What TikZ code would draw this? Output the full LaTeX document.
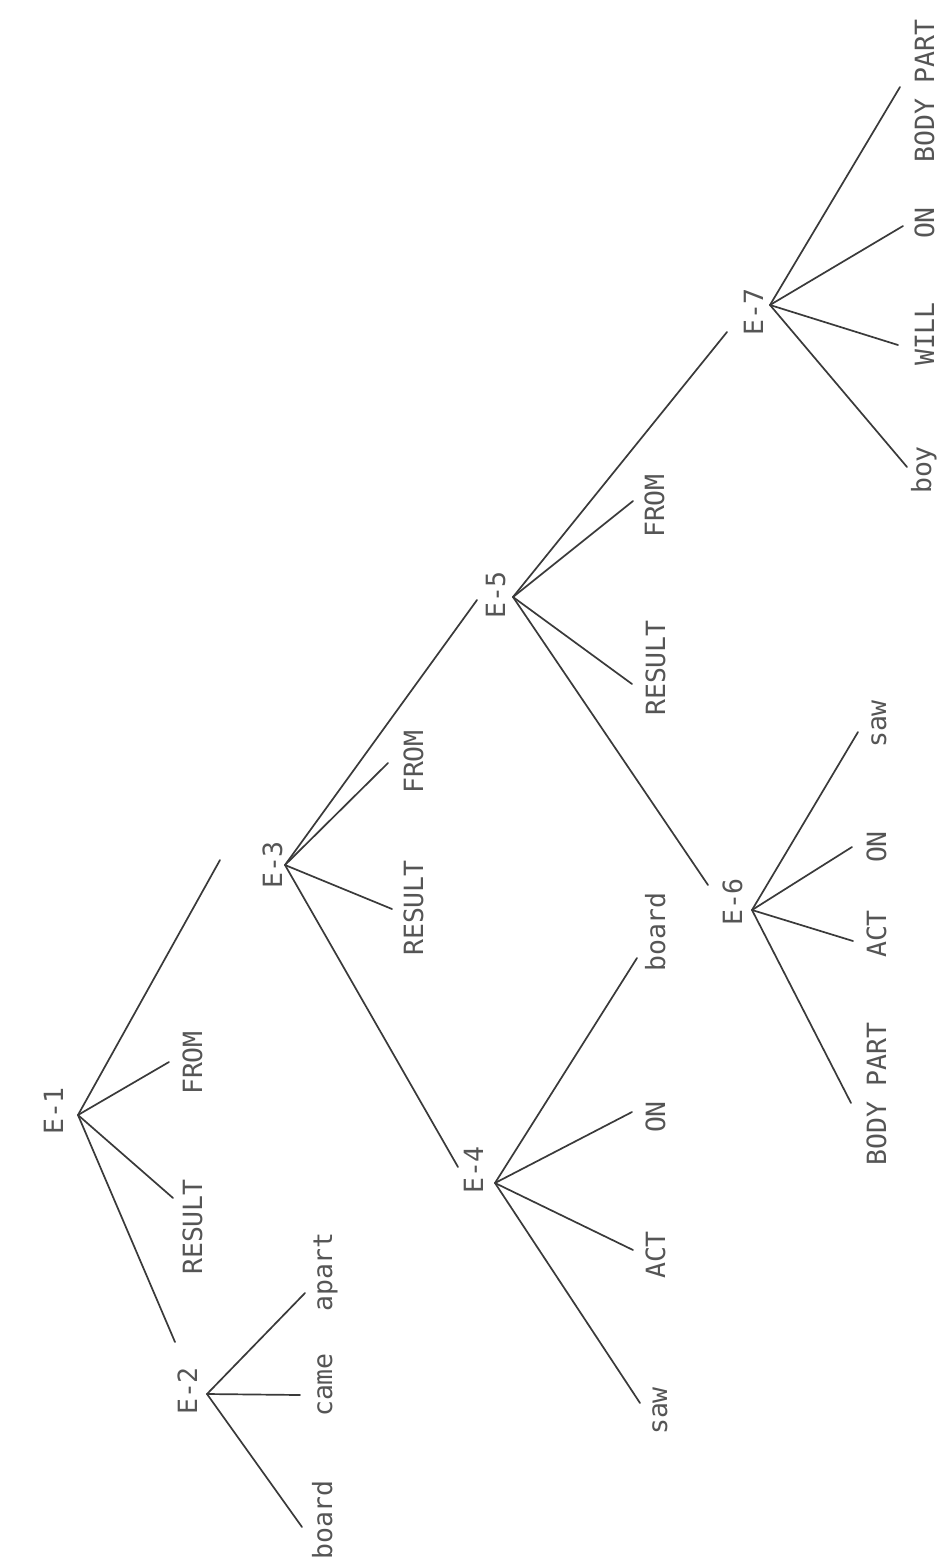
\documentclass[tikz,border=0pt]{standalone}
\usepackage{fontspec}
\newfontfamily\treefont{DejaVu Sans Mono}
\definecolor{ink}{HTML}{3A3A3A}
\definecolor{txt}{HTML}{555555}
\newcommand{\labelfont}{\treefont\fontsize{26.5}{26.5}\selectfont}
\tikzset{
  lbl/.style={rotate=90,anchor=base,inner sep=0pt,font=\labelfont,text=txt},
  twig/.style={draw=ink,line width=1.7pt,line cap=round}
}
\begin{document}
\begin{tikzpicture}[x=1pt,y=-1pt]
  \useasboundingbox[fill=white] (0,0) rectangle (948,1564);
  % junction points
  \coordinate (e1) at (78,1115);
  \coordinate (e2) at (207,1394);
  \coordinate (e3) at (285,865);
  \coordinate (e4) at (495,1183);
  \coordinate (e5) at (513,597);
  \coordinate (e6) at (752,910);
  \coordinate (e7) at (770,305);
  % node names
  \node[lbl] (le1) at (63,1111) {E-1};
  \node[lbl] (le2) at (197,1391) {E-2};
  \node[lbl] (le3) at (282,865) {E-3};
  \node[lbl] (le4) at (483,1170) {E-4};
  \node[lbl] (le5) at (505,595) {E-5};
  \node[lbl] (le6) at (742,902) {E-6};
  \node[lbl] (le7) at (763,312) {E-7};
  % E-1
  \node[lbl] (e1from) at (202,1063) {FROM};
  \node[lbl] (e1res) at (202,1227) {RESULT};
  \coordinate (e1to3) at (220,860);
  \coordinate (e1to2) at (175,1342);
  \coordinate (e1fromend) at (169,1062);
  \coordinate (e1resend) at (173,1198);
  \draw[twig] (e1) -- (e1to3);
  \draw[twig] (e1) -- (e1fromend);
  \draw[twig] (e1) -- (e1resend);
  \draw[twig] (e1) -- (e1to2);
  % E-2
  \node[lbl] (e2apart) at (332,1272) {apart};
  \node[lbl] (e2came) at (332,1385) {came};
  \node[lbl] (e2board) at (332,1520) {board};
  \coordinate (e2apartend) at (305,1293);
  \coordinate (e2cameend) at (300,1395);
  \coordinate (e2boardend) at (302,1527);
  \draw[twig] (e2) -- (e2apartend);
  \draw[twig] (e2) -- (e2cameend);
  \draw[twig] (e2) -- (e2boardend);
  % E-3
  \node[lbl] (e3from) at (423,762) {FROM};
  \node[lbl] (e3res) at (423,908) {RESULT};
  \coordinate (e3to5) at (477,600);
  \coordinate (e3to4) at (458,1167);
  \coordinate (e3fromend) at (388,763);
  \coordinate (e3resend) at (392,909);
  \draw[twig] (e3) -- (e3to5);
  \draw[twig] (e3) -- (e3fromend);
  \draw[twig] (e3) -- (e3resend);
  \draw[twig] (e3) -- (e3to4);
  % E-4
  \node[lbl] (e4board) at (665,932) {board};
  \node[lbl] (e4on) at (665,1117) {ON};
  \node[lbl] (e4act) at (665,1255) {ACT};
  \node[lbl] (e4saw) at (667,1411) {saw};
  \coordinate (e4boardend) at (637,958);
  \coordinate (e4onend) at (632,1112);
  \coordinate (e4actend) at (633,1250);
  \coordinate (e4sawend) at (640,1403);
  \draw[twig] (e4) -- (e4boardend);
  \draw[twig] (e4) -- (e4onend);
  \draw[twig] (e4) -- (e4actend);
  \draw[twig] (e4) -- (e4sawend);
  % E-5
  \node[lbl] (e5from) at (664,506) {FROM};
  \node[lbl] (e5res) at (665,668) {RESULT};
  \coordinate (e5to7) at (727,332);
  \coordinate (e5to6) at (708,885);
  \coordinate (e5fromend) at (633,501);
  \coordinate (e5resend) at (632,684);
  \draw[twig] (e5) -- (e5to7);
  \draw[twig] (e5) -- (e5fromend);
  \draw[twig] (e5) -- (e5resend);
  \draw[twig] (e5) -- (e5to6);
  % E-6
  \node[lbl] (e6saw) at (886,724) {saw};
  \node[lbl] (e6on) at (886,847) {ON};
  \node[lbl] (e6act) at (886,934) {ACT};
  \node[lbl] (e6body) at (886,1094) {BODY PART};
  \coordinate (e6sawend) at (858,732);
  \coordinate (e6onend) at (852,847);
  \coordinate (e6actend) at (853,941);
  \coordinate (e6bodyend) at (851,1103);
  \draw[twig] (e6) -- (e6sawend);
  \draw[twig] (e6) -- (e6onend);
  \draw[twig] (e6) -- (e6actend);
  \draw[twig] (e6) -- (e6bodyend);
  % E-7
  \node[lbl] (e7body) at (934,91) {BODY PART};
  \node[lbl] (e7on) at (934,223) {ON};
  \node[lbl] (e7will) at (934,334) {WILL};
  \node[lbl] (e7boy) at (931,470) {boy};
  \coordinate (e7bodyend) at (900,87);
  \coordinate (e7onend) at (903,226);
  \coordinate (e7willend) at (898,345);
  \coordinate (e7boyend) at (907,467);
  \draw[twig] (e7) -- (e7bodyend);
  \draw[twig] (e7) -- (e7onend);
  \draw[twig] (e7) -- (e7willend);
  \draw[twig] (e7) -- (e7boyend);
\end{tikzpicture}
\end{document}
